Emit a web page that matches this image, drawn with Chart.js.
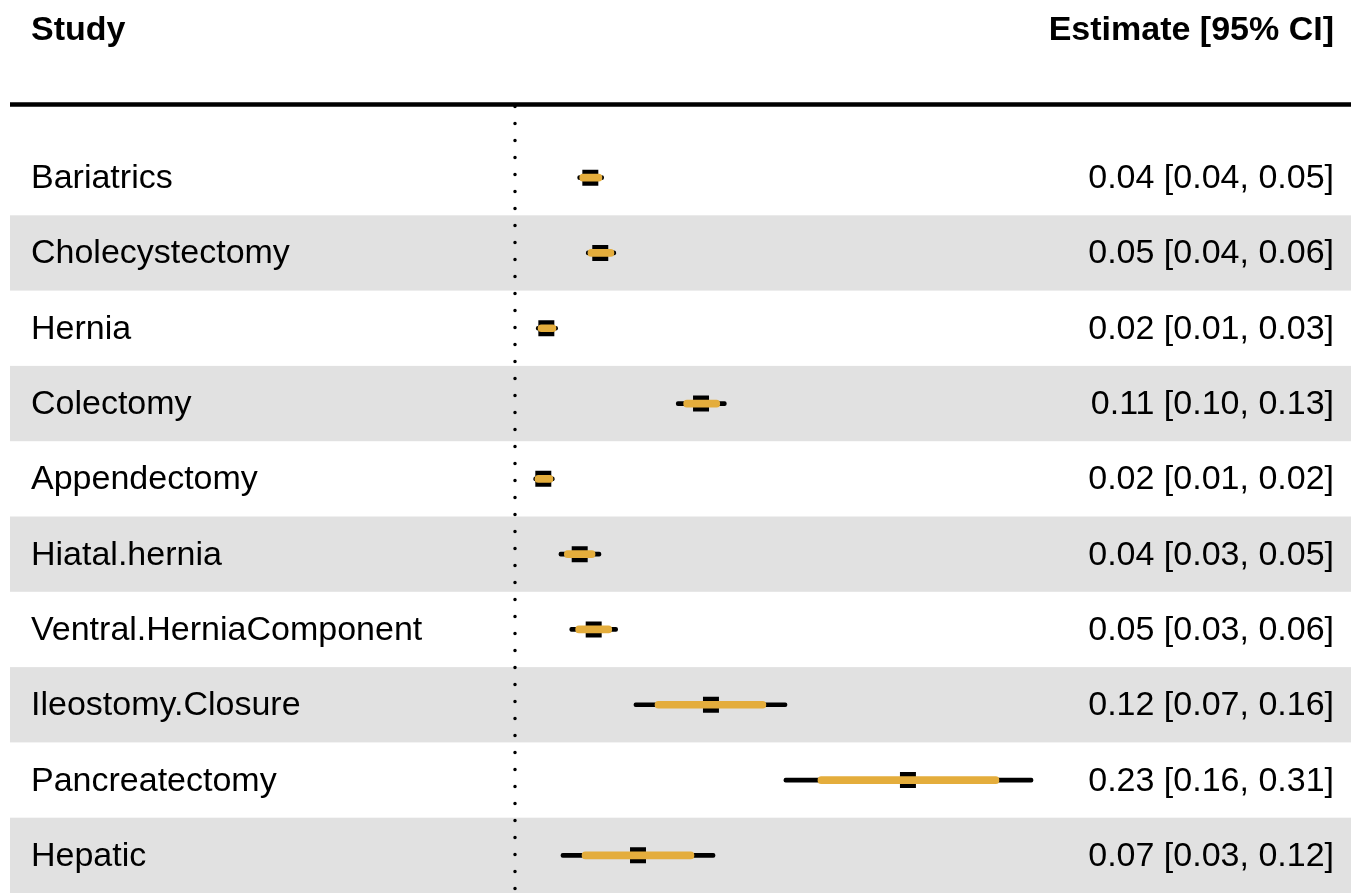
<!DOCTYPE html>
<html>
<head>
<meta charset="utf-8">
<title>Forest plot</title>
<script src="https://cdn.jsdelivr.net/npm/chart.js@4.4.1/dist/chart.umd.min.js"></script>
<style>
    html, body { margin: 0; padding: 0; background: #fff; }
    canvas { display: block; }
</style>
</head>
<body>
<canvas id="forestChart" width="1351" height="893"></canvas>
<script>
const studies = [
    'Bariatrics', 'Cholecystectomy', 'Hernia', 'Colectomy', 'Appendectomy',
    'Hiatal.hernia', 'Ventral.HerniaComponent', 'Ileostomy.Closure', 'Pancreatectomy', 'Hepatic'
];
const estimates = [0.0447, 0.0506, 0.0186, 0.1104, 0.0168, 0.0384, 0.0467, 0.1163, 0.2332, 0.0730];
const ciLower   = [0.0372, 0.0423, 0.0126, 0.0957, 0.0111, 0.0261, 0.0325, 0.0706, 0.1596, 0.0273];
const ciUpper   = [0.0526, 0.0598, 0.0253, 0.1254, 0.0233, 0.0510, 0.0609, 0.1614, 0.3074, 0.1187];
// narrower inner band drawn in orange over each interval
const bandLower = [0.0384, 0.0433, 0.0137, 0.1001, 0.0119, 0.0293, 0.0360, 0.0831, 0.1798, 0.0398];
const bandUpper = [0.0516, 0.0587, 0.0243, 0.1215, 0.0225, 0.0475, 0.0574, 0.1489, 0.2872, 0.1062];

const headerLeft = 'Study';
const headerRight = 'Estimate [95% CI]';

const FONT = '"Liberation Sans", Arial, sans-serif';
const ORANGE = '#e4ad3c';
const BAND_GRAY = '#e1e1e1';
const RULE_Y = 104.5;  // thick line under the header

function ciText(i) {
    return `${estimates[i].toFixed(2)} [${ciLower[i].toFixed(2)}, ${ciUpper[i].toFixed(2)}]`;
}

// zebra rows, reference line at 0, header and the text columns
const forestDecor = {
    id: 'forestDecor',
    beforeDatasetsDraw(chart) {
        const ctx = chart.ctx;
        const x = chart.scales.x;
        const y = chart.scales.y;
        const rowH = y.getPixelForValue(1) - y.getPixelForValue(0);

        ctx.save();
        ctx.fillStyle = BAND_GRAY;
        studies.forEach((s, i) => {
            if (i % 2 === 1) {
                const cy = y.getPixelForValue(i);
                ctx.fillRect(10, cy - rowH / 2, chart.width - 10, rowH);
            }
        });

        // dotted line at zero
        const x0 = x.getPixelForValue(0);
        ctx.strokeStyle = '#000';
        ctx.lineWidth = 3.5;
        ctx.lineCap = 'round';
        ctx.setLineDash([0, 17]);
        ctx.beginPath();
        ctx.moveTo(x0, RULE_Y + 2);
        ctx.lineTo(x0, chart.height);
        ctx.stroke();
        ctx.restore();
    },
    afterDraw(chart) {
        const ctx = chart.ctx;
        const y = chart.scales.y;

        ctx.save();
        ctx.fillStyle = '#000';
        ctx.textBaseline = 'alphabetic';

        ctx.font = `bold 34px ${FONT}`;
        ctx.textAlign = 'left';
        ctx.fillText(headerLeft, 31, 40);
        ctx.textAlign = 'right';
        ctx.fillText(headerRight, 1334, 40);

        ctx.strokeStyle = '#000';
        ctx.lineWidth = 4.5;
        ctx.beginPath();
        ctx.moveTo(10, RULE_Y);
        ctx.lineTo(chart.width, RULE_Y);
        ctx.stroke();

        ctx.font = `34px ${FONT}`;
        studies.forEach((s, i) => {
            const cy = y.getPixelForValue(i) + 10.5;
            ctx.textAlign = 'left';
            ctx.fillText(s, 31, cy);
            ctx.textAlign = 'right';
            ctx.fillText(ciText(i), 1334, cy);
        });
        ctx.restore();
    }
};

const PX_PER_UNIT = 1685;
const ZERO_PX = 515;
const LEFT_PAD = 10;
const xMin = -(ZERO_PX - LEFT_PAD) / PX_PER_UNIT;
const xMax = xMin + (1351 - LEFT_PAD) / PX_PER_UNIT;

const ctx = document.getElementById('forestChart').getContext('2d');
new Chart(ctx, {
    type: 'bar',
    data: {
        labels: studies,
        datasets: [
            {
                type: 'bar',
                label: '95% CI',
                data: ciLower.map((lo, i) => [lo, ciUpper[i]]),
                backgroundColor: '#000',
                barThickness: 4,
                borderRadius: 2,
                borderSkipped: false,
                grouped: false,
                indexAxis: 'y',
                order: 3
            },
            {
                type: 'line',
                label: 'Estimate',
                data: estimates,
                showLine: false,
                pointStyle: 'rect',
                pointRadius: 11.3,
                pointBorderWidth: 0,
                pointBackgroundColor: '#000',
                borderColor: '#000',
                indexAxis: 'y',
                order: 2
            },
            {
                type: 'bar',
                label: 'Band',
                data: bandLower.map((lo, i) => [lo, bandUpper[i]]),
                backgroundColor: ORANGE,
                barThickness: 7,
                borderRadius: 3.5,
                borderSkipped: false,
                grouped: false,
                indexAxis: 'y',
                order: 1
            }
        ]
    },
    options: {
        indexAxis: 'y',
        responsive: false,
        animation: false,
        devicePixelRatio: 1,
        layout: { autoPadding: false, padding: { left: LEFT_PAD, right: 0, top: 140, bottom: 0 } },
        scales: {
            x: { type: 'linear', min: xMin, max: xMax, display: false },
            y: { type: 'category', offset: true, display: false }
        },
        plugins: {
            legend: { display: false },
            tooltip: { enabled: false }
        }
    },
    plugins: [forestDecor]
});
</script>
</body>
</html>
